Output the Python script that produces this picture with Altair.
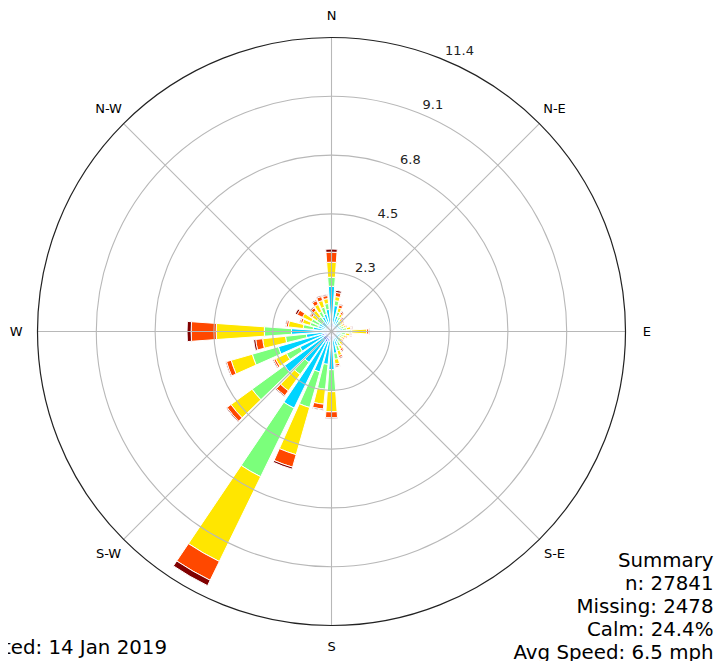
import math
import altair as alt
import pandas as pd

# ---------------- data (percent frequency per direction and speed bin) ----------------
directions = list(range(0, 360, 10))
speed_bins = ["bin 1", "bin 2", "bin 3", "bin 4", "bin 5", "bin 6", "bin 7"]
bin_colors = ["#000080", "#002aff", "#00d4ff", "#7bff7b", "#ffe600", "#ff4800", "#800000"]

s1 = [0.12, 0.08, 0.08, 0.08, 0.08, 0.08, 0.08, 0.08, 0.08, 0.08, 0.08, 0.08,
      0.08, 0.08, 0.08, 0.08, 0.08, 0.12, 0.12, 0.12, 0.12, 0.12, 0.12, 0.12,
      0.12, 0.12, 0.08, 0.08, 0.08, 0.08, 0.08, 0.08, 0.08, 0.08, 0.08, 0.08]
s2 = [0.35, 0.23, 0.16, 0.16, 0.12, 0.12, 0.12, 0.12, 0.12, 0.16, 0.12, 0.12,
      0.12, 0.12, 0.12, 0.16, 0.16, 0.19, 0.27, 0.27, 0.27, 0.35, 0.27, 0.27,
      0.19, 0.27, 0.16, 0.23, 0.16, 0.12, 0.12, 0.12, 0.12, 0.16, 0.16, 0.16]
s3 = [1.28, 0.70, 0.39, 0.27, 0.19, 0.16, 0.16, 0.19, 0.23, 0.31, 0.19, 0.16,
      0.16, 0.16, 0.19, 0.23, 0.35, 0.54, 1.09, 0.89, 1.24, 2.83, 1.09, 1.86,
      1.05, 1.75, 0.74, 1.24, 0.47, 0.35, 0.35, 0.27, 0.27, 0.39, 0.47, 0.62]
s4 = [0.35, 0.19, 0.16, 0.12, 0.12, 0.12, 0.08, 0.12, 0.16, 0.23, 0.16, 0.12,
      0.08, 0.08, 0.12, 0.16, 0.19, 0.23, 0.85, 0.97, 1.43, 2.95, 0.58, 1.55,
      0.58, 1.05, 0.81, 1.05, 0.39, 0.31, 0.31, 0.23, 0.23, 0.23, 0.27, 0.23]
s5 = [0.58, 0.16, 0.16, 0.12, 0.08, 0.08, 0.08, 0.08, 0.16, 0.58, 0.16, 0.12,
      0.08, 0.08, 0.12, 0.12, 0.19, 0.19, 0.78, 0.58, 1.90, 3.65, 0.78, 1.01,
      0.47, 0.85, 0.89, 1.86, 0.58, 0.31, 0.39, 0.23, 0.31, 0.31, 0.27, 0.19]
s6 = [0.39, 0.16, 0.12, 0.08, 0.04, 0.04, 0.04, 0.04, 0.04, 0.08, 0.04, 0.04,
      0.04, 0.04, 0.04, 0.08, 0.08, 0.08, 0.23, 0.19, 0.50, 0.81, 0.23, 0.19,
      0.08, 0.19, 0.27, 0.97, 0.08, 0.08, 0.23, 0.08, 0.12, 0.16, 0.16, 0.12]
s7 = [0.12, 0.08, 0.04, 0.04, 0.04, 0.00, 0.00, 0.00, 0.04, 0.04, 0.04, 0.00,
      0.00, 0.00, 0.00, 0.04, 0.04, 0.04, 0.04, 0.04, 0.08, 0.23, 0.04, 0.04,
      0.04, 0.04, 0.08, 0.16, 0.04, 0.04, 0.08, 0.04, 0.04, 0.04, 0.04, 0.04]
series = [s1, s2, s3, s4, s5, s6, s7]

grid_values = [2.275, 4.55, 6.825, 9.1]
outer_value = 11.375
radial_labels = ["2.3", "4.5", "6.8", "9.1", "11.4"]
compass_labels = ["N", "N-E", "E", "S-E", "S", "S-W", "W", "N-W"]
compass_angles = [0, 45, 90, 135, 180, 225, 270, 315]
summary_lines = ["Summary", "n: 27841", "Missing: 2478", "Calm: 24.4%", "Avg Speed: 6.5 mph"]
footer_text = "Created: 14 Jan 2019"

# ---------------- layout ----------------
W, H = 706, 653
CX, CY, RPX = 323.5, 323.5, 294
OPENING = 8  # degrees of each bar
FONT = "DejaVu Sans"

xs = alt.Scale(domain=[-outer_value, outer_value], range=[CX - RPX, CX + RPX], nice=False, zero=False)
ys = alt.Scale(domain=[-outer_value, outer_value], range=[CY + RPX, CY - RPX], nice=False, zero=False)
theta_scale = alt.Scale(domain=[0, 360], range=[0, 2 * math.pi])
rad_scale = alt.Scale(type="linear", domain=[0, outer_value], range=[0, RPX], nice=False)

rows = []
for i, d in enumerate(directions):
    base = 0.0
    for j, name in enumerate(speed_bins):
        v = series[j][i]
        if v > 0:
            rows.append({"direction": d, "bin": name, "r1": base, "r2": base + v,
                         "t1": d - OPENING / 2, "t2": d + OPENING / 2})
        base += v
bars_df = pd.DataFrame(rows)

bars = alt.Chart(bars_df).mark_arc(stroke="white", strokeWidth=1).encode(
    x=alt.value(CX), y=alt.value(CY),
    theta=alt.Theta("t1:Q", scale=theta_scale, stack=False),
    theta2="t2:Q",
    radius=alt.Radius("r2:Q", scale=rad_scale, stack=False),
    radius2="r1:Q",
    color=alt.Color("bin:N", scale=alt.Scale(domain=speed_bins, range=bin_colors), legend=None),
)

circles = alt.Chart(pd.DataFrame({"r": grid_values})).mark_arc(
    fillOpacity=0, stroke="#b8b8b8", strokeWidth=1.1
).encode(
    x=alt.value(CX), y=alt.value(CY),
    theta=alt.value(0), theta2=alt.value(2 * math.pi),
    radius=alt.Radius("r:Q", scale=rad_scale, stack=False),
)

outer = alt.Chart(pd.DataFrame({"r": [outer_value]})).mark_arc(
    fillOpacity=0, stroke="#222222", strokeWidth=1.2
).encode(
    x=alt.value(CX), y=alt.value(CY),
    theta=alt.value(0), theta2=alt.value(2 * math.pi),
    radius=alt.Radius("r:Q", scale=rad_scale, stack=False),
)

spokes = alt.Chart(pd.DataFrame({"angle": compass_angles})).transform_calculate(
    x0="0", y0="0",
    x1=f"{outer_value}*sin(datum.angle*PI/180)",
    y1=f"{outer_value}*cos(datum.angle*PI/180)",
).mark_rule(stroke="#b8b8b8", strokeWidth=1.1).encode(
    x=alt.X("x0:Q", scale=xs, axis=None),
    y=alt.Y("y0:Q", scale=ys, axis=None),
    x2="x1:Q", y2="y1:Q",
)

compass = alt.Chart(pd.DataFrame({"angle": compass_angles, "label": compass_labels})).transform_calculate(
    lx="12.2*sin(datum.angle*PI/180)",
    ly="12.2*cos(datum.angle*PI/180)",
).mark_text(font=FONT, fontSize=13, color="black", baseline="middle", align="center").encode(
    x=alt.X("lx:Q", scale=xs, axis=None),
    y=alt.Y("ly:Q", scale=ys, axis=None),
    text="label:N",
)

rlab = alt.Chart(pd.DataFrame({"r": grid_values + [outer_value], "label": radial_labels})).transform_calculate(
    lx="datum.r*sin(22.5*PI/180)",
    ly="datum.r*cos(22.5*PI/180)",
).mark_text(font=FONT, fontSize=13, color="#222222", align="left", baseline="bottom", dx=1, dy=-2).encode(
    x=alt.X("lx:Q", scale=xs, axis=None),
    y=alt.Y("ly:Q", scale=ys, axis=None),
    text="label:N",
)

layers = [bars, circles, spokes, outer, compass, rlab]

for k, line in enumerate(summary_lines):
    layers.append(
        alt.Chart(pd.DataFrame({"t": [line]})).mark_text(
            font=FONT, fontSize=19.8, color="black", align="right", baseline="alphabetic"
        ).encode(x=alt.value(W - 0.5), y=alt.value(558.5 + 23.2 * k), text="t:N")
    )

layers.append(
    alt.Chart(pd.DataFrame({"t": [footer_text]})).mark_text(
        font=FONT, fontSize=19.8, color="black", align="right", baseline="alphabetic"
    ).encode(x=alt.value(159), y=alt.value(646), text="t:N")
)

chart = alt.layer(*layers).properties(
    width=W, height=H, autosize=alt.AutoSizeParams(type="none"), padding=0
).configure_view(strokeWidth=0)

chart.save("out.html", embed_options={"renderer": "svg", "actions": False})
